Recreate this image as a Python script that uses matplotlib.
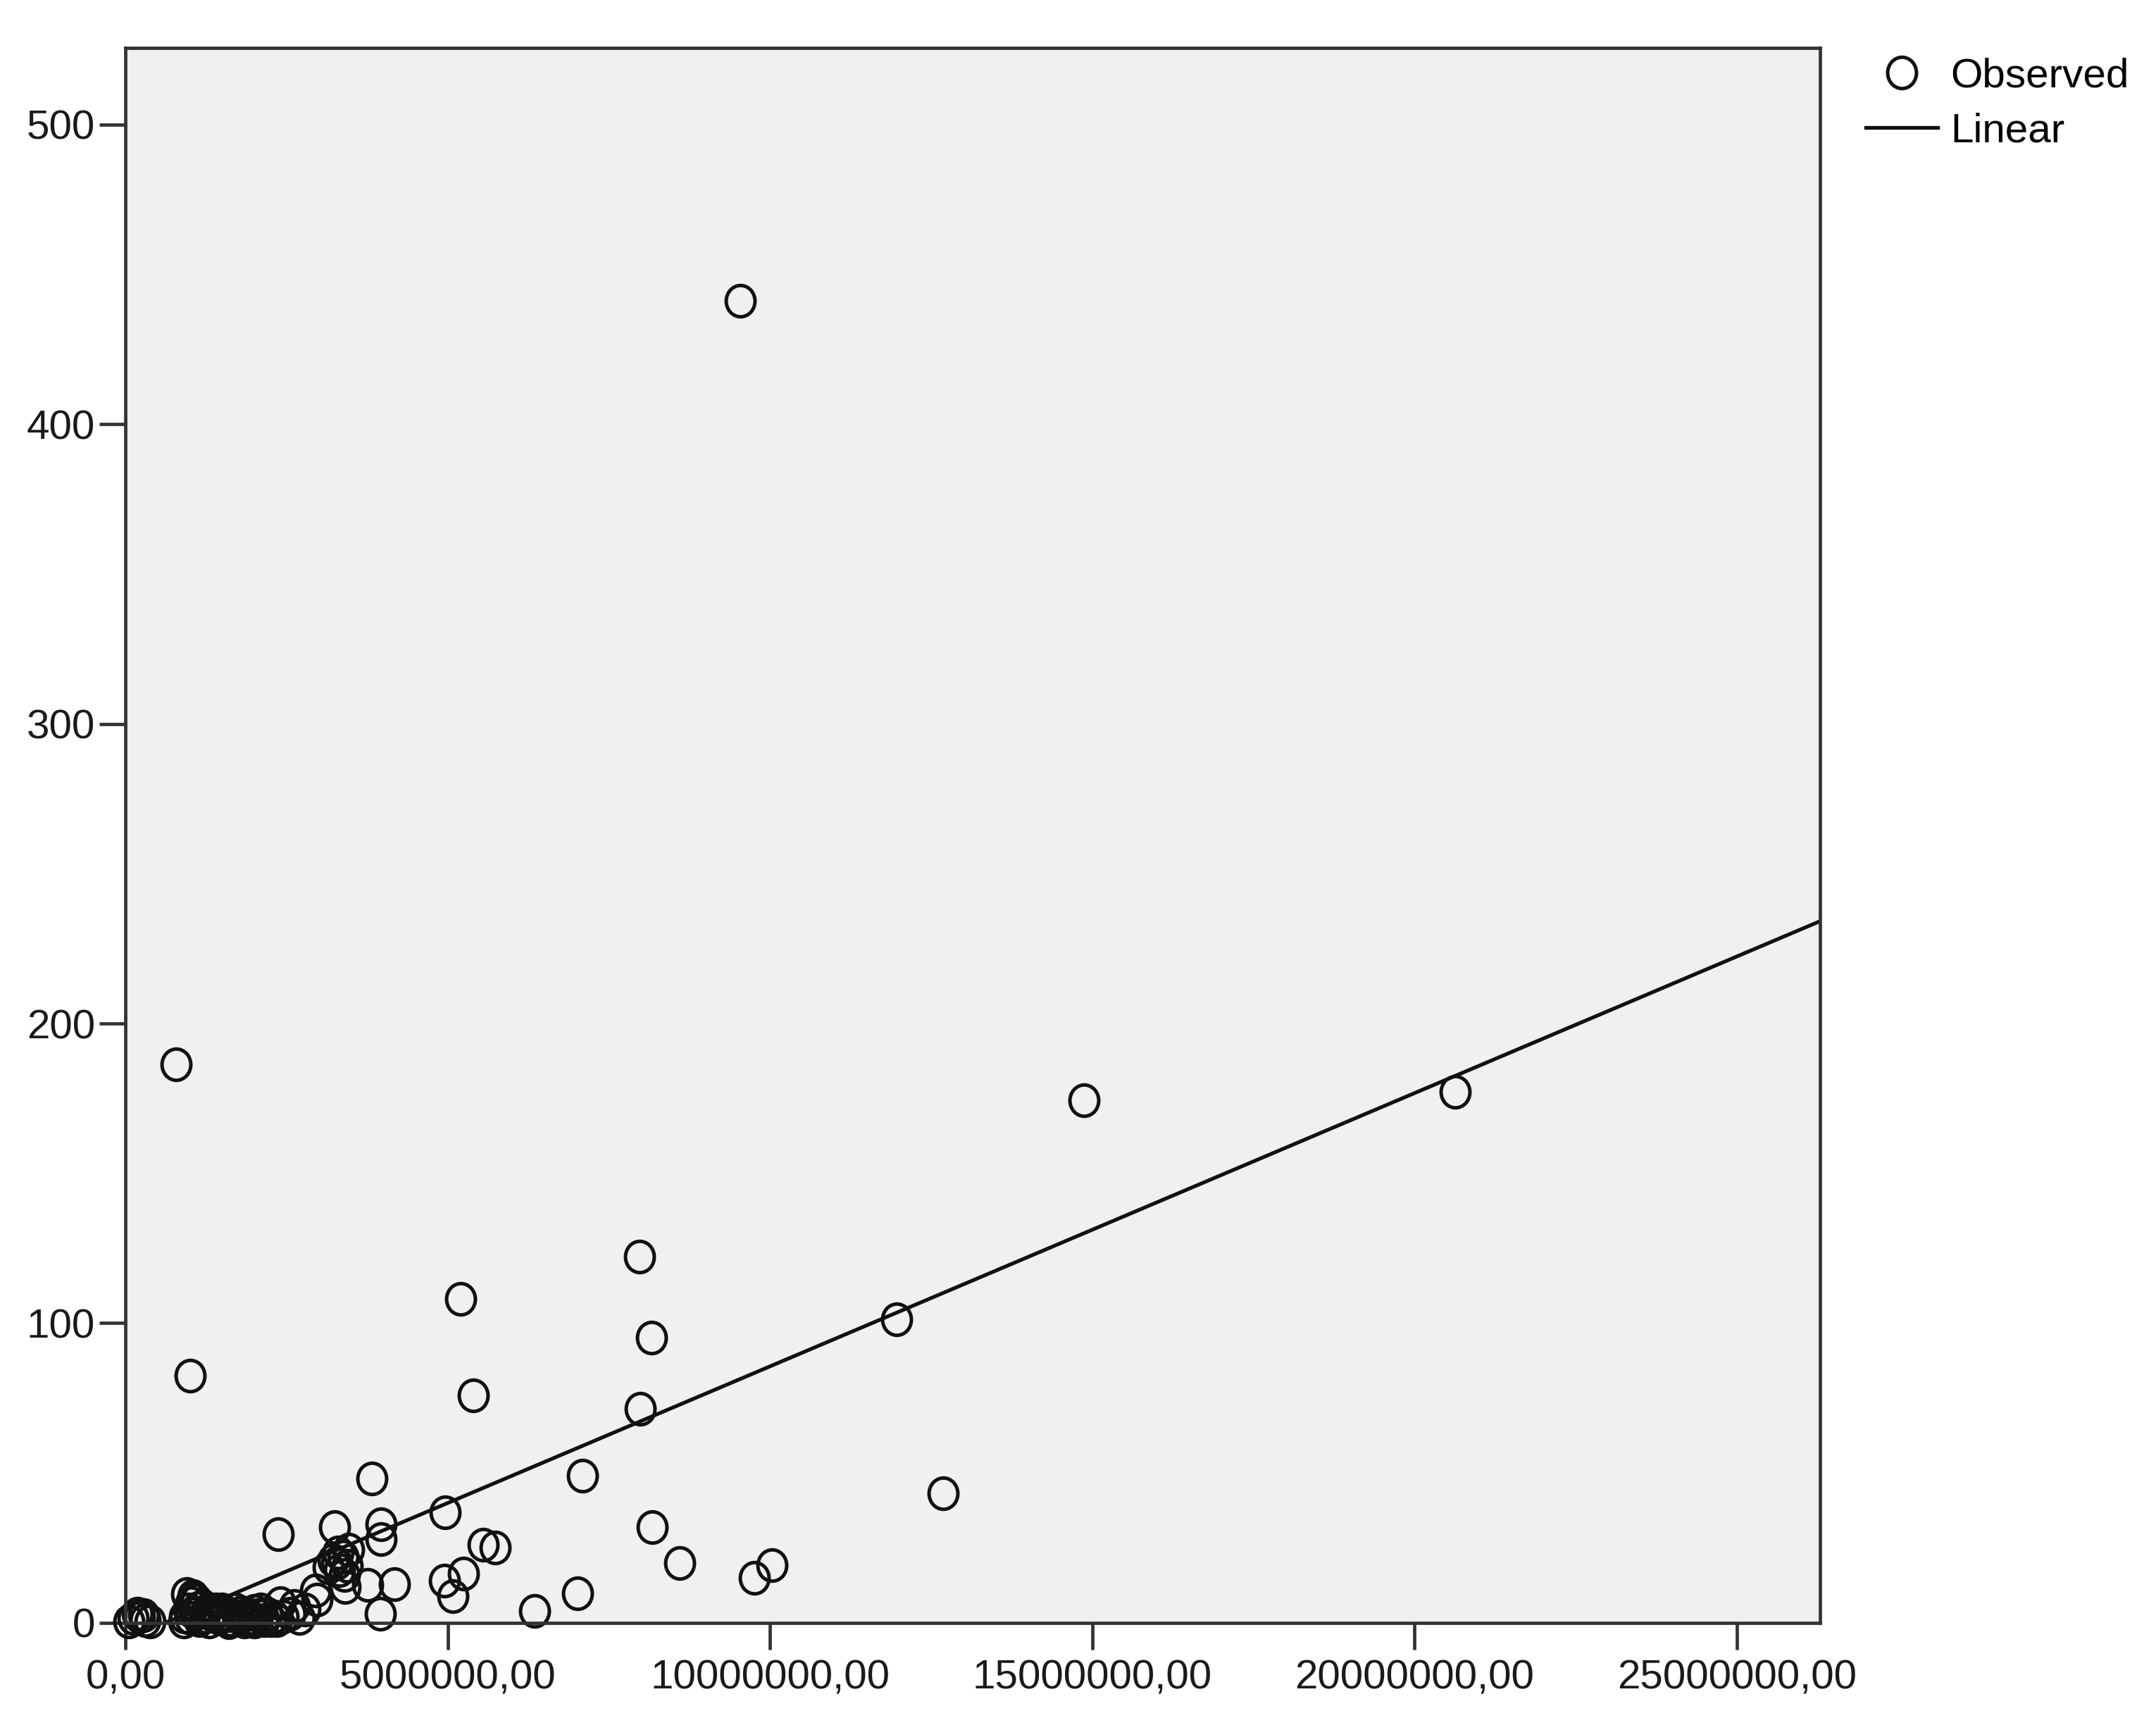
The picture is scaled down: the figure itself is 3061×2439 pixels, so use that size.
import numpy as np
import matplotlib.pyplot as plt
from matplotlib.path import Path
from matplotlib.transforms import Affine2D
from matplotlib.ticker import FuncFormatter

x_mill = [9.535, 0.79, 14.87, 20.63, 7.98, 5.20, 1.00, 8.16, 11.96, 5.40,
          7.99, 3.825, 7.09, 12.69, 4.955, 2.37, 3.24, 3.97, 3.97, 8.17,
          5.55, 5.74, 8.60, 9.76, 10.03, 4.95, 5.24, 5.08, 7.01, 6.35,
          3.41, 3.76, 4.17, 3.95, 2.97, 2.95,
          3.22, 3.30, 3.38, 3.44, 3.32, 3.46, 3.15, 3.28, 3.40,
          2.40, 2.62, 2.55, 2.78, 2.70, 2.30,
          0.95, 1.05, 1.02, 0.98, 1.10, 0.92, 1.08, 1.15, 1.25, 1.35,
          1.45, 1.55, 1.65, 1.75, 1.85, 1.95, 2.05, 2.15, 1.30, 1.60,
          2.00, 2.25, 1.20, 1.40, 1.70, 2.00,
          0.90, 1.00, 1.12, 1.22, 1.38, 1.50, 1.62, 1.80, 1.90, 2.10,
          2.20, 2.35, 2.45, 1.05, 1.58, 1.88,
          0.12, 0.22, 0.30, 0.38, 0.05, 0.18, 0.28]
y_obs = [441.2, 186.4, 174.5, 177.2, 122.3, 108.0, 82.6, 95.2, 101.3, 76.0,
         71.4, 48.2, 49.0, 43.3, 36.9, 29.5, 32.0, 33.0, 28.0, 32.0,
         26.0, 25.2, 20.0, 15.0, 19.3, 14.0, 16.4, 8.8, 9.8, 4.0,
         12.0, 12.7, 13.0, 3.0, 7.8, 10.9,
         21.0, 23.5, 22.0, 19.0, 17.5, 24.5, 18.5, 20.0, 16.0,
         6.5, 5.5, 3.0, 4.5, 1.5, 2.0,
         9.5, 9.0, 6.5, 4.5, 7.5, 2.0, 3.0, 1.0, 4.0, 2.5,
         1.5, 3.0, 1.0, 2.0, 0.5, 1.5, 2.5, 1.0, 0.5, 0.3,
         0.5, 0.8, 5.5, 4.5, 4.5, 4.0,
         0.5, 1.5, 5.0, 2.0, 3.5, 4.5, 2.5, 3.5, 1.0, 4.5,
         3.0, 1.0, 2.0, 8.0, 0.8, 2.8,
         1.5, 2.0, 1.0, 0.5, 0.5, 3.0, 2.5]

# recta ajustada (Linear)
pendiente = 9.12e-6
intercepto = -5.6

x_ticks = [0, 5e6, 10e6, 15e6, 20e6, 25e6]
y_ticks = [0, 100, 200, 300, 400, 500]
x_lim = (0, 26.29e6)
y_lim = (0, 525.6)

plt.rcParams['font.family'] = ['Liberation Sans', 'DejaVu Sans']

fig = plt.figure(figsize=(30.61, 24.39), dpi=100)
ax = fig.add_axes([0.0582, 0.0554, 0.7860, 0.9167])
ax.set_facecolor('#f0f0f0')

# marcador un poco mas alto que ancho, como en SPSS
elipse = Path.unit_circle().transformed(Affine2D().scale(0.92, 1.0))

X = np.array(x_mill) * 1e6
ax.plot(X, y_obs, linestyle='none', marker=elipse, ms=32, mfc='none',
        mec='#111111', mew=3.6, clip_on=False, label='Observed')

xs = np.array(x_lim)
ax.plot(xs, intercepto + pendiente * xs, color='#111111', lw=3.8, label='Linear')

ax.set_xlim(x_lim)
ax.set_ylim(y_lim)
ax.set_xticks(x_ticks)
ax.set_yticks(y_ticks)
ax.xaxis.set_major_formatter(FuncFormatter(lambda v, p: ('%.2f' % v).replace('.', ',')))
ax.yaxis.set_major_formatter(FuncFormatter(lambda v, p: '%d' % v))

for s in ax.spines.values():
    s.set_linewidth(3.4)
    s.set_color('#333333')

ax.tick_params(axis='both', direction='out', length=27, width=3.4,
               color='#333333', labelsize=42, labelcolor='#1a1a1a')
ax.tick_params(axis='x', pad=10)
ax.tick_params(axis='y', pad=4)

ax.legend(loc='upper left', bbox_to_anchor=(2620 / 3061, 1 - 52 / 2439),
          bbox_transform=fig.transFigure, frameon=False, fontsize=42,
          handlelength=1.75, handletextpad=0.3, labelspacing=0.42,
          borderpad=0, numpoints=1)

fig.savefig('out.png', dpi=100)
